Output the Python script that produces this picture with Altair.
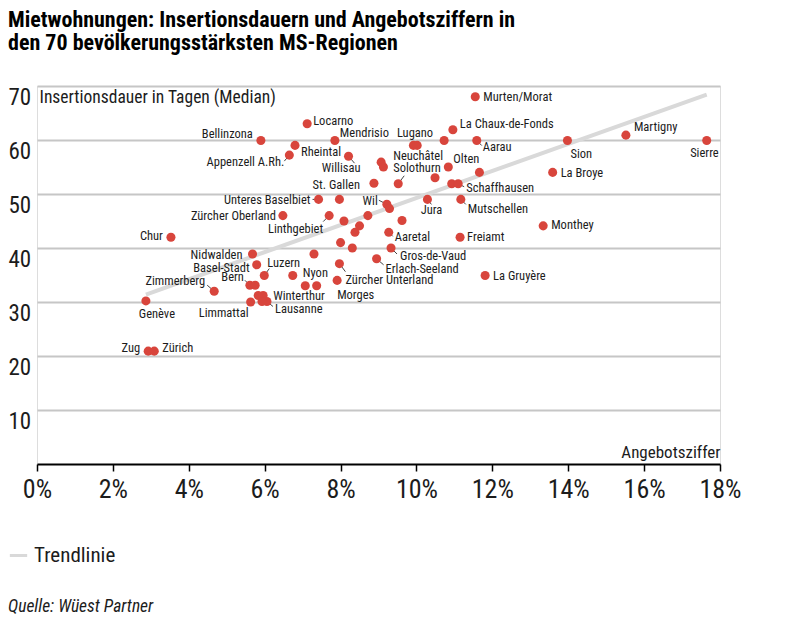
import altair as alt
import pandas as pd

# ---- data ----
regions = [
    "Murten/Morat", "La Chaux-de-Fonds", "", "", "Lugano", "Aarau", "Sion", "Martigny", "Sierre",
    "La Broye", "Olten", "", "", "Solothurn", "", "Schaffhausen", "Jura", "Mutschellen", "Monthey",
    "Neuchâtel", "", "Willisau", "Mendrisio", "Bellinzona", "Rheintal", "Appenzell A.Rh.", "Locarno",
    "St. Gallen", "Unteres Baselbiet", "", "Wil", "", "Zürcher Oberland", "Linthgebiet", "", "", "",
    "", "", "Aaretal", "", "", "Gros-de-Vaud", "Freiamt", "Erlach-Seeland", "Zürcher Unterland",
    "Morges", "La Gruyère", "Nidwalden", "Basel-Stadt", "Luzern", "", "Nyon", "", "", "Bern", "",
    "Winterthur", "", "Lausanne", "", "Limmattal", "Zimmerberg", "Genève", "Chur", "Zug", "Zürich",
]
angebot = [  # Angebotsziffer in %
    11.55, 10.96, 9.92, 10.02, 10.73, 11.59, 13.98, 15.52, 17.65,
    13.59, 10.84, 11.66, 10.49, 9.52, 10.93, 11.10, 10.29, 11.17, 13.34,
    9.07, 9.13, 8.21, 7.85, 5.90, 6.80, 6.65, 7.12,
    8.88, 7.42, 7.97, 9.22, 9.29, 6.48, 7.70, 8.09, 8.72, 9.62,
    8.50, 8.38, 9.27, 8.00, 8.31, 9.33, 11.15, 8.95, 7.97,
    7.91, 11.81, 5.68, 5.79, 5.99, 7.30, 6.74, 7.07, 7.37, 5.61, 5.75,
    5.96, 5.83, 6.06, 5.93, 5.63, 4.67, 2.87, 3.53, 2.93, 3.09,
]
dauer = [  # Insertionsdauer in Tagen (Median)
    68.0, 61.9, 59.0, 59.0, 59.9, 59.9, 59.9, 60.9, 59.9,
    54.0, 55.0, 54.0, 53.0, 51.9, 51.9, 51.9, 49.0, 49.0, 44.1,
    55.9, 55.0, 57.0, 59.9, 59.9, 59.0, 57.2, 63.0,
    52.0, 49.0, 49.0, 48.1, 47.3, 46.0, 46.0, 45.0, 46.0, 45.1,
    44.1, 42.9, 42.9, 41.0, 40.0, 40.0, 42.0, 38.0, 37.1,
    34.0, 34.9, 38.9, 36.9, 34.9, 38.9, 34.9, 33.0, 33.0, 33.1, 33.1,
    31.2, 31.2, 30.1, 30.1, 30.0, 32.0, 30.2, 42.0, 20.9, 20.9,
]

# ---- label placement (styling, pixels from the dot) ----
label_dx = [
    8, 7, 0, 0, -11, 6, 3, 8, 12,
    8, 5, 0, 0, -5, 0, 8, 4, 7, 8,
    12, 0, 12, 5, -8, 6, -5, 6,
    -14, -8, 0, -9, 0, -7, -6, 0, 0, 0,
    0, 0, 6, 0, 0, 9, 7, 9, 6,
    0, 8, -10, -7, 3, 0, 10, 0, 0, -6, 0,
    10, 0, 8, 0, -2, -9, 11, -8, -8, 8,
]
label_dy = [
    0, -6, 0, 0, -8, 6, 13, -8, 12,
    1, -8, 0, 0, -16, 0, 4, 11, 10, -1,
    -6, 0, 12, -8, -7, 7, 7, -3,
    2, 1, 0, -3, 0, 0, 13, 0, 0, 0,
    0, 0, 5, 0, 0, 8, 0, 10, 16,
    15, 0, 1, 3, -13, 0, -3, 0, 0, -8, 0,
    0, 0, 8, 0, 11, -10, 13, -1, -3, -3,
]
label_align = [
    "left", "left", "", "", "right", "left", "left", "left", "right",
    "left", "left", "", "", "left", "", "left", "center", "left", "left",
    "left", "", "right", "left", "right", "left", "right", "left",
    "right", "right", "", "right", "", "right", "right", "", "", "",
    "", "", "left", "", "", "left", "left", "left", "left",
    "left", "left", "right", "right", "left", "", "left", "", "", "right", "",
    "left", "", "left", "", "right", "right", "center", "right", "right", "left",
]
# leader lines: end point relative to the dot, pixels (0, 0 = none)
leader_dx = [
    0, 0, 0, 0, 0, 5, 0, 0, 0,
    0, 0, 0, 0, 6, 0, 6, 4, 5, 0,
    0, 0, 6, 0, 0, 0, -5, 0,
    0, -6, 0, -8, 0, 0, -6, 0, 0, 0,
    0, 0, 4, 0, 0, 6, 0, 7, 6,
    0, 0, 0, 0, 5, 0, 0, 0, 0, -5, 0,
    0, 0, 6, 0, 0, -7, 0, 0, 0, 0,
]
leader_dy = [
    0, 0, 0, 0, 0, 5, 0, 0, 0,
    0, 0, 0, 0, -8, 0, 3, 5, 5, 0,
    0, 0, 7, 0, 0, 0, 6, 0,
    0, 0, 0, -4, 0, 0, 6, 0, 0, 0,
    0, 0, 4, 0, 0, 6, 0, 6, 8,
    0, 0, 0, 0, -7, 0, 0, 0, 0, -5, 0,
    0, 0, 5, 0, 0, -6, 0, 0, 0, 0,
]

title_lines = [
    "Mietwohnungen: Insertionsdauern und Angebotsziffern in",
    "den 70 bevölkerungsstärksten MS-Regionen",
]
x_ticks = [0, 2, 4, 6, 8, 10, 12, 14, 16, 18]
y_ticks = [10, 20, 30, 40, 50, 60, 70]
source_text = ["Quelle: Wüest Partner"]

FONT = "Roboto Condensed, Noto Sans Condensed, Liberation Sans Narrow, Roboto, sans-serif"
RED = "#d8453c"
INK = "#1c1c1c"

W, H = 683, 378
XMAX, YMAX = 18, 70

df = pd.DataFrame({
    "region": regions, "x": angebot, "y": dauer,
    "dx": label_dx, "dy": label_dy, "align": label_align,
    "ldx": leader_dx, "ldy": leader_dy,
})

x_enc = alt.X(
    "x:Q",
    scale=alt.Scale(domain=[0, XMAX], nice=False, zero=True),
    axis=alt.Axis(
        values=x_ticks, labelExpr="datum.value + '%'", grid=False, labelFlush=False,
        domainColor="black", domainWidth=2, tickColor="black", tickWidth=1.5, tickSize=7,
        labelFontSize=26, labelFont=FONT, labelColor=INK, labelPadding=5,
        title="Angebotsziffer", titleFont=FONT, titleFontSize=17, titleFontWeight="normal",
        titleColor=INK, titleX=W, titleY=-12, titleAlign="right", titleBaseline="middle",
    ),
)
y_enc = alt.Y(
    "y:Q",
    scale=alt.Scale(domain=[0, YMAX], nice=False),
    axis=alt.Axis(
        values=y_ticks, grid=True, gridColor="#c6c6c6", gridWidth=2, domain=False, ticks=False,
        labelAlign="left", labelBaseline="middle", labelPadding=29, labelOffset=11,
        labelFontSize=23, labelFont=FONT, labelColor=INK,
        title="Insertionsdauer in Tagen (Median)", titleAngle=0, titleX=2, titleY=11,
        titleAlign="left", titleBaseline="middle", titleFont=FONT, titleFontSize=17.5,
        titleFontWeight="normal", titleColor=INK,
    ),
)

base = alt.Chart(df)

trend = base.transform_regression("x", "y").transform_calculate(
    serie="'Trendlinie'"
).mark_line(strokeWidth=4, strokeCap="butt").encode(
    x=x_enc, y=y_enc,
    color=alt.Color(
        "serie:N",
        scale=alt.Scale(domain=["Trendlinie"], range=["#d9d9d9"]),
        legend=alt.Legend(
            orient="none", legendX=-29, legendY=459, title=None, symbolType="stroke",
            symbolStrokeWidth=3, symbolSize=300, labelFont=FONT, labelFontSize=21,
            labelColor=INK, padding=0, labelOffset=5,
        ),
    ),
)

leaders = base.transform_filter("datum.ldx != 0 || datum.ldy != 0").transform_calculate(
    x2=f"datum.x + datum.ldx * {XMAX} / {W}",
    y2=f"datum.y - datum.ldy * {YMAX} / {H}",
).mark_rule(color="#444444", strokeWidth=1).encode(
    x="x:Q", y="y:Q", x2="x2:Q", y2="y2:Q"
)

points = base.mark_circle(size=82, color=RED, opacity=1).encode(x="x:Q", y="y:Q")


def labels(al):
    return base.transform_filter(f"datum.align == '{al}'").transform_calculate(
        lx=f"datum.x + datum.dx * {XMAX} / {W}",
        ly=f"datum.y - datum.dy * {YMAX} / {H}",
    ).mark_text(
        align=al, baseline="middle", font=FONT, fontSize=12.5, color=INK
    ).encode(x="lx:Q", y="ly:Q", text="region:N")


source = alt.Chart(pd.DataFrame({"t": source_text})).mark_text(
    align="left", baseline="middle", font=FONT, fontSize=17.5, fontStyle="italic", color=INK
).encode(x=alt.value(-29), y=alt.value(521), text="t:N")

chart = alt.layer(
    trend, leaders, points, labels("left"), labels("right"), labels("center"), source
).properties(
    width=W, height=H,
    padding={"left": 29, "top": 78, "right": 40, "bottom": 160},
    autosize=alt.AutoSizeParams(type="none"),
    title=alt.Title(
        text=title_lines, anchor="start", font=FONT, fontSize=22, fontWeight="bold",
        color="black", offset=31, lineHeight=23, frame="group", dx=-29,
    ),
).configure_view(stroke=None).configure(background="white")

chart.save("out.html", embed_options={"renderer": "svg", "actions": False})
